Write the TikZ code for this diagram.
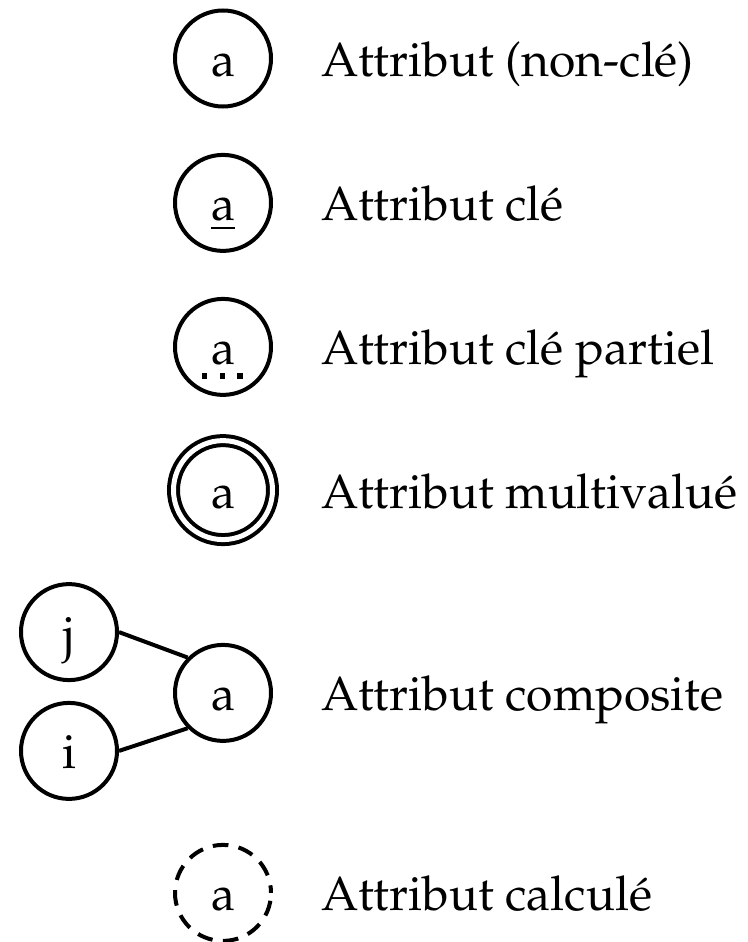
\documentclass[12pt,tikz,border=0pt]{standalone}
\usepackage[T1]{fontenc}
\usepackage{mathpazo}

\begin{document}
\begin{tikzpicture}[x=1pt, y=1pt, line width=1pt]
        \tikzstyle{attr}=[circle, draw, inner sep=0pt, minimum size=24pt, text height=9pt, text depth=0pt]
        \tikzstyle{desc}=[anchor=base west, inner sep=0pt]
        \useasboundingbox (-55.75,14.625) rectangle (131.25,-220.875);
        % simple, key, partial key, multivalued
        \node [attr] (simple) at (0,0) {a};
        \node [desc] (simplelbl) at ([xshift=24pt]simple.base) {Attribut (non-cl\'e)};
        \node [attr] (key) at (0,-36.1) {\underline{a}};
        \node [desc] (keylbl) at ([xshift=24pt]key.base) {Attribut cl\'e};
        \node [attr] (partial) at (0,-72.1) {a};
        \node [desc] (partiallbl) at ([xshift=24pt]partial.base) {Attribut cl\'e partiel};
        \draw [line width=1.3pt, dash pattern=on 1.3pt off 3.1pt] ([shift={(-5.2pt,-2.75pt)}]partial.base) -- ([shift={(4.9pt,-2.75pt)}]partial.base);
        \node [attr, double, double distance=1.25pt, minimum size=24.75pt] (multi) at (0,-107.9) {a};
        \node [desc] (multilbl) at ([xshift=24pt]multi.base) {Attribut multivalu\'e};
        % composite
        \node [attr] (comp) at (0,-158.6) {a};
        \node [attr] (compj) at (-38.5,-143.4) {j};
        \node [attr] (compi) at (-38.5,-173.1) {i};
        \draw (compj.east) -- (comp.north west);
        \draw (compi.east) -- (comp.south west);
        \node [desc] (complbl) at ([xshift=24pt]comp.base) {Attribut composite};
        % derived
        \node [attr, dash pattern=on 3.9pt off 2.6pt, dash phase=2pt] (derived) at (0,-208.6) {a};
        \node [desc] (derivedlbl) at ([xshift=24pt]derived.base) {Attribut calcul\'e};
\end{tikzpicture}
\end{document}
